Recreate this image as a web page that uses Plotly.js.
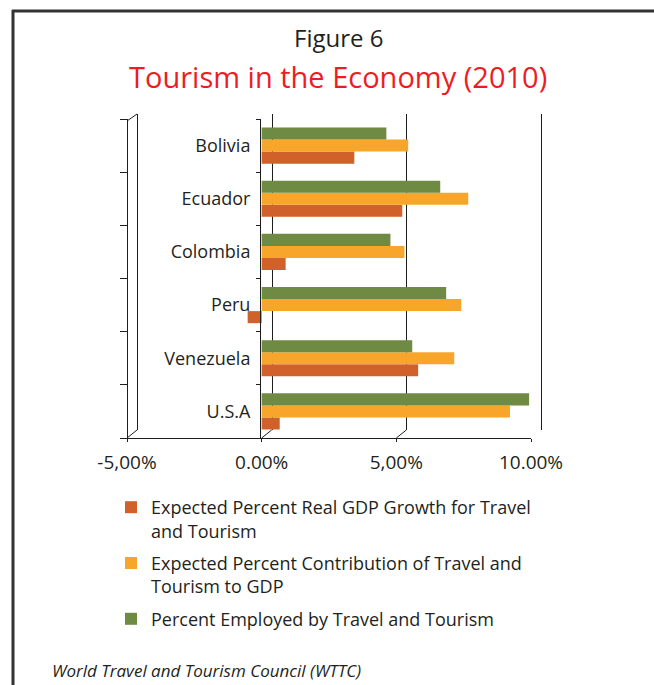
<!DOCTYPE html>
<html>
<head>
<meta charset="utf-8">
<script src="https://cdn.plot.ly/plotly-3.0.1.min.js"></script>
<style>html,body{margin:0;padding:0;background:#fff}#chart{width:654px;height:685px}</style>
</head>
<body>
<div id="chart"></div>
<script>
// ---- data ----
const countries = ['Bolivia', 'Ecuador', 'Colombia', 'Peru', 'Venezuela', 'U.S.A'];
const gdpGrowth = [3.44, 5.22, 0.89, -0.52, 5.81, 0.67];
const gdpContribution = [5.44, 7.67, 5.30, 7.41, 7.15, 9.22];
const employed = [4.63, 6.63, 4.78, 6.85, 5.59, 9.93];
const seriesNames = [
  'Expected Percent Real GDP Growth for Travel<br>and Tourism',
  'Expected Percent Contribution of Travel and<br>Tourism to GDP',
  'Percent Employed by Travel and Tourism'
];
const tickVals = [-5, 0, 5, 10];
const tickText = ['-5,00%', '0.00%', '5,00%', '10.00%'];

// ---- layout helpers (pixels -> paper fractions) ----
const W = 654, H = 685;
const fx = p => p / W, fy = p => 1 - p / H;
const FONT = '"Open Sans", "Noto Sans", sans-serif';
const TXT = '#231f20';
const LINE = '#1e1e1e';
const colors = ['#D0612A', '#F7A62B', '#6F8A43'];
const catOrder = countries.slice().reverse();
const PPU = (531 - 127) / 15; // pixels per percent on the front axis
const PAD = 0.2;              // back-wall range padding so edge gridlines draw

const traces = [
  // back-wall subplot (gridlines only)
  {type: 'scatter', x: [null], y: [null], xaxis: 'x', yaxis: 'y', showlegend: false, hoverinfo: 'skip'},
  {type: 'bar', orientation: 'h', name: seriesNames[0], y: countries, x: gdpGrowth, xaxis: 'x2', yaxis: 'y2', marker: {color: colors[0]}, legendgroup: 'a'},
  {type: 'bar', orientation: 'h', name: seriesNames[1], y: countries, x: gdpContribution, xaxis: 'x2', yaxis: 'y2', marker: {color: colors[1]}, legendgroup: 'b'},
  {type: 'bar', orientation: 'h', name: seriesNames[2], y: countries, x: employed, xaxis: 'x2', yaxis: 'y2', marker: {color: colors[2]}, legendgroup: 'c'},
  // left side axis (ticks only)
  {type: 'bar', orientation: 'h', y: countries, x: countries.map(() => null), xaxis: 'x2', yaxis: 'y3', showlegend: false, hoverinfo: 'skip'}
];

// 3D-look diagonal edges at the floor
const shapes = [];
tickVals.forEach(v => {
  shapes.push({type: 'line', xref: 'x2', xsizemode: 'pixel', xanchor: v, x0: 0, x1: 10,
    yref: 'paper', ysizemode: 'pixel', yanchor: fy(438), y0: 0, y1: 8, line: {color: LINE, width: 1}});
});
shapes.push({type: 'line', xref: 'x2', xsizemode: 'pixel', xanchor: -5, x0: 0, x1: 10,
  yref: 'paper', ysizemode: 'pixel', yanchor: fy(121), y0: 0, y1: 7, line: {color: LINE, width: 1}});
// page frame
shapes.push({type: 'line', xref: 'paper', yref: 'paper', x0: fx(13), x1: fx(13), y0: 0, y1: fy(10), line: {color: '#333', width: 3}});
shapes.push({type: 'line', xref: 'paper', yref: 'paper', x0: fx(12), x1: 1, y0: fy(11), y1: fy(11), line: {color: '#333', width: 3}});

const catAxis = {
  type: 'category', categoryorder: 'array', categoryarray: catOrder, range: [-0.5, 5.5],
  showgrid: false, zeroline: false, showline: true, linecolor: LINE, linewidth: 1,
  ticks: 'outside', tickson: 'boundaries', tickcolor: LINE, fixedrange: true
};

const layout = {
  width: W, height: H,
  margin: {l: 0, r: 0, t: 0, b: 0},
  paper_bgcolor: '#fff', plot_bgcolor: 'rgba(0,0,0,0)',
  font: {family: FONT, color: TXT},
  barmode: 'group', bargap: 0.32, bargroupgap: 0,
  xaxis: {domain: [fx(138 - PAD * PPU), fx(541 + PAD * PPU)], range: [-5 - PAD, 10 + PAD], anchor: 'y', tickvals: tickVals,
    showticklabels: false, showgrid: true, gridcolor: LINE, gridwidth: 1, zeroline: false, ticks: '', fixedrange: true},
  yaxis: {domain: [fy(430), fy(114)], range: [0, 1], anchor: 'x', showticklabels: false, showgrid: false,
    zeroline: false, showline: false, ticks: '', fixedrange: true},
  xaxis2: {domain: [fx(127), fx(531)], range: [-5, 10], anchor: 'y2', tickvals: tickVals, ticktext: tickText,
    showgrid: false, zeroline: false, showline: true, linecolor: LINE, linewidth: 1,
    ticks: 'outside', ticklen: 3, tickcolor: LINE,
    ticklabelstandoff: 4, tickfont: {size: 19, color: TXT, family: FONT}, fixedrange: true},
  yaxis2: Object.assign({}, catAxis, {domain: [fy(438), fy(119)], anchor: 'free', position: fx(260),
    ticklen: 4, ticklabelstandoff: 6, tickfont: {size: 18, color: TXT, family: FONT}}),
  yaxis3: Object.assign({}, catAxis, {overlaying: 'y2', anchor: 'free', position: fx(127),
    ticklen: 7, showticklabels: false}),
  legend: {x: fx(111), y: fy(489), xanchor: 'left', yanchor: 'top', orientation: 'v', valign: 'top',
    font: {size: 18, color: TXT, family: FONT}, bgcolor: 'rgba(0,0,0,0)', tracegroupgap: 6, traceorder: 'grouped'},
  shapes: shapes,
  annotations: [
    {text: 'Figure 6', xref: 'paper', yref: 'paper', x: fx(338), y: fy(38), xanchor: 'center', yanchor: 'middle',
      showarrow: false, font: {size: 24, color: TXT, family: FONT}},
    {text: 'Tourism in the Economy (2010)', xref: 'paper', yref: 'paper', x: fx(338), y: fy(76), xanchor: 'center', yanchor: 'middle',
      showarrow: false, font: {size: 29, color: '#ED1C24', family: FONT}},
    {text: '<i>World Travel and Tourism Council (WTTC)</i>', xref: 'paper', yref: 'paper',
      x: fx(50), y: fy(684), xanchor: 'left', yanchor: 'bottom', showarrow: false,
      font: {size: 17, color: TXT, family: FONT}}
  ]
};

Plotly.newPlot('chart', traces, layout, {displayModeBar: false, staticPlot: true});
</script>
</body>
</html>
